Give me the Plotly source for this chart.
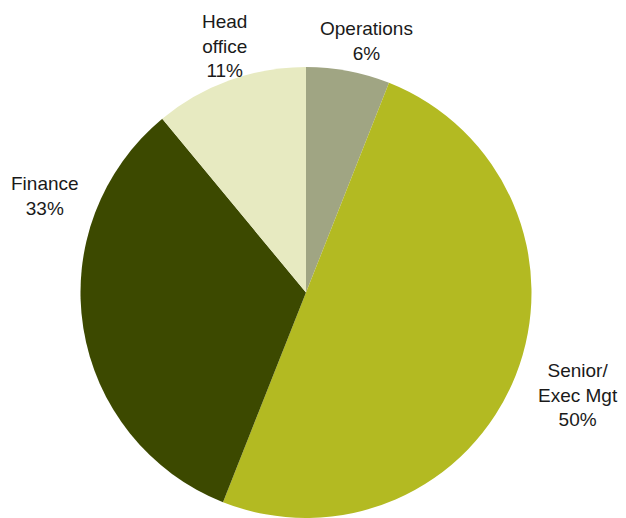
import plotly.graph_objects as go

# Share of respondents by function
categories = ["Operations", "Senior/<br>Exec Mgt", "Finance", "Head<br>office"]
values = [6, 50, 33, 11]
colors = ["#a0a583", "#b3ba22", "#3c4900", "#e7eac1"]

W, H = 626, 518

fig = go.Figure(
    go.Pie(
        labels=categories,
        values=values,
        marker=dict(colors=colors, line=dict(width=0)),
        sort=False,
        direction="clockwise",
        rotation=0,
        textinfo="none",
        hoverinfo="label+percent",
        domain=dict(x=[79 / W, 533 / W], y=[0, 1 - 67 / H]),
        showlegend=False,
    )
)

# Outside labels: category name and percentage
label_pos = [(366, 41), (578, 395), (45, 196), (224, 46)]
total = sum(values)
for cat, v, (px, py) in zip(categories, values, label_pos):
    fig.add_annotation(
        x=px / W, y=1 - py / H, xref="paper", yref="paper",
        text=f"{cat}<br>{round(100 * v / total)}%",
        showarrow=False, xanchor="center", yanchor="middle",
        font=dict(family="Liberation Sans, Arial, sans-serif", size=19, color="#1a1a1a"),
    )

fig.update_layout(
    width=W, height=H,
    margin=dict(l=0, r=0, t=0, b=0),
    paper_bgcolor="white",
    plot_bgcolor="white",
)

fig.write_html("out.html")
